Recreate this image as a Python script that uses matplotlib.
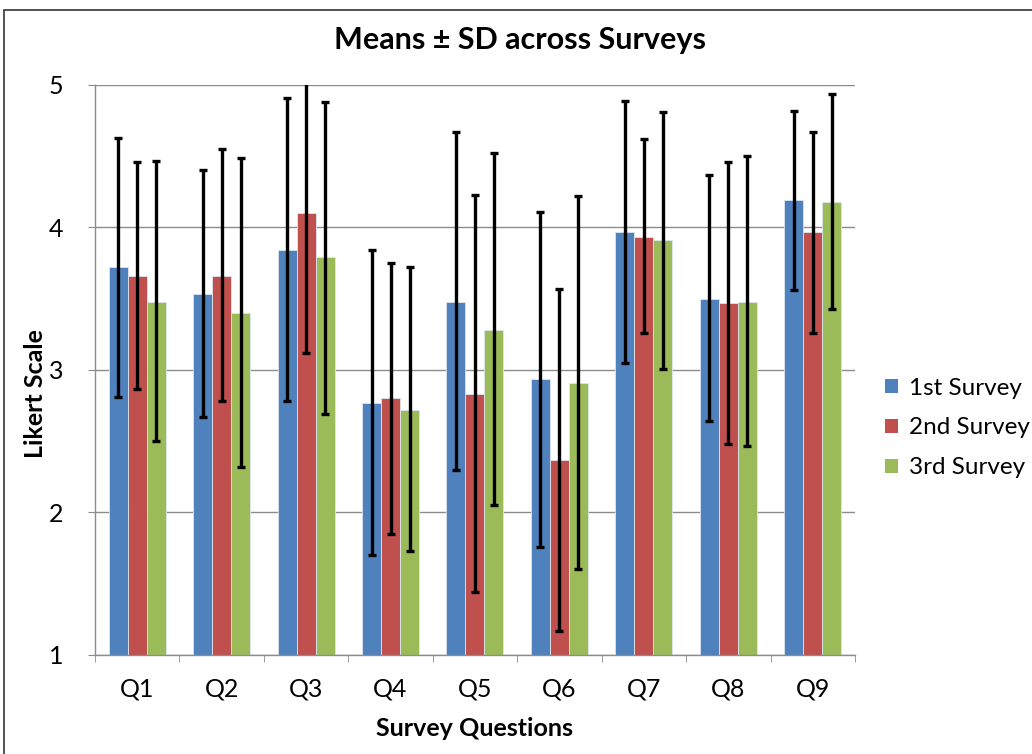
import numpy as np
import matplotlib.pyplot as plt
from matplotlib.patches import Rectangle, Patch

# dados (média, limite inferior e superior da barra de erro)
questoes = ['Q1', 'Q2', 'Q3', 'Q4', 'Q5', 'Q6', 'Q7', 'Q8', 'Q9']
pesquisas = ['1st Survey', '2nd Survey', '3rd Survey']

media_1 = [3.72, 3.53, 3.84, 2.77, 3.48, 2.94, 3.97, 3.50, 4.19]
inf_1 = [2.81, 2.67, 2.78, 1.70, 2.30, 1.76, 3.05, 2.64, 3.56]
sup_1 = [4.63, 4.40, 4.91, 3.84, 4.67, 4.11, 4.89, 4.37, 4.82]

media_2 = [3.66, 3.66, 4.10, 2.80, 2.83, 2.37, 3.93, 3.47, 3.97]
inf_2 = [2.87, 2.78, 3.12, 1.85, 1.44, 1.17, 3.26, 2.48, 3.26]
sup_2 = [4.46, 4.55, 5.05, 3.75, 4.23, 3.57, 4.62, 4.46, 4.67]

media_3 = [3.48, 3.40, 3.79, 2.72, 3.28, 2.91, 3.91, 3.48, 4.18]
inf_3 = [2.50, 2.32, 2.69, 1.73, 2.05, 1.60, 3.01, 2.47, 3.43]
sup_3 = [4.47, 4.49, 4.88, 3.72, 4.52, 4.22, 4.81, 4.50, 4.94]

cores = ['#4F81BD', '#C0504D', '#9BBB59']

plt.rcParams['font.family'] = ['Lato', 'DejaVu Sans']

fig = plt.figure(figsize=(10.32, 7.54), dpi=100)
ax = fig.add_axes([0.092, 0.1313, 0.7365, 0.756])

# moldura da área do gráfico (cortada à direita e embaixo, como na imagem)
fig.patches.append(Rectangle((0.004, -0.05), 1.1, 1.0367, transform=fig.transFigure,
                             fill=False, edgecolor='#333333', linewidth=1.2))

x = np.arange(len(questoes))
largura = 0.225
series = [(media_1, inf_1, sup_1), (media_2, inf_2, sup_2), (media_3, inf_3, sup_3)]

for i, (m, lo, hi) in enumerate(series):
    m = np.array(m)
    pos = x + (i - 1) * largura
    ax.bar(pos, m - 1, bottom=1, width=largura, color=cores[i],
           edgecolor='#dde6f0', linewidth=0.6, zorder=2)
    erro = [m - np.array(lo), np.array(hi) - m]
    ax.errorbar(pos, m, yerr=erro, fmt='none', ecolor='black', elinewidth=2.4,
                capsize=2.6, capthick=2.4, zorder=3)

ax.set_xlim(-0.5, len(questoes) - 0.5)
ax.set_ylim(1, 5)
ax.set_yticks([1, 2, 3, 4, 5])
ax.yaxis.grid(True, color='#8c8c8c', linewidth=1.0, zorder=0)
ax.set_axisbelow(True)

ax.set_xticks(x)
ax.set_xticklabels(questoes, fontsize=18)
ax.set_xticks(np.arange(-0.5, len(questoes)), minor=True)
ax.tick_params(axis='x', which='major', length=0, pad=16)
ax.tick_params(axis='x', which='minor', length=5, color='#8c8c8c', direction='out')
ax.tick_params(axis='y', labelsize=18, length=5, color='#8c8c8c', pad=18)

for lado in ['top', 'right']:
    ax.spines[lado].set_visible(False)
for lado in ['left', 'bottom']:
    ax.spines[lado].set_color('#8c8c8c')
    ax.spines[lado].set_linewidth(1.0)

ax.set_xlabel('Survey Questions', fontsize=18, fontweight='bold')
ax.set_ylabel('Likert Scale', fontsize=18, fontweight='bold')
ax.xaxis.set_label_coords(0.5, -0.108)
ax.yaxis.set_label_coords(-0.063, 0.458)
fig.text(0.504, 0.947, 'Means ± SD across Surveys', ha='center', va='center',
         fontsize=22, fontweight='bold')

handles = [Patch(facecolor=c, edgecolor='none') for c in cores]
fig.legend(handles, pesquisas, loc='center left', bbox_to_anchor=(0.836, 0.4324),
           frameon=False, fontsize=17.5, handlelength=0.55, handleheight=0.55,
           handletextpad=0.45, labelspacing=0.78)

plt.savefig('out.png', dpi=100)
